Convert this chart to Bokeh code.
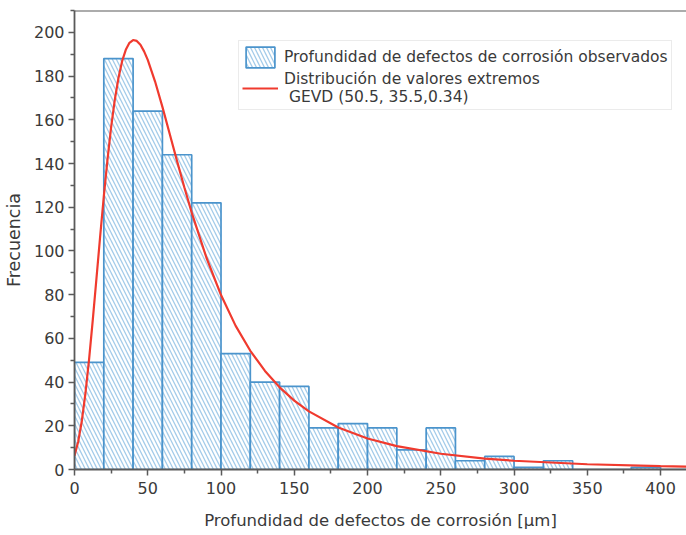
from bokeh.plotting import figure
from bokeh.models import (ColumnDataSource, Legend, LegendItem, Span,
                          Range1d, FixedTicker)
from bokeh.embed import file_html
from bokeh.resources import INLINE

# ---- data ----
bin_left = [0, 20, 40, 60, 80, 100, 120, 140, 160, 180, 200,
            220, 240, 260, 280, 300, 320, 340, 360, 380, 400]
counts = [49, 188, 164, 144, 122, 53, 40, 38, 19, 21, 19,
          9, 19, 4, 6, 1, 4, 0, 0, 1, 0]
bin_width = 20

curve_x = [0, 2.5, 5, 7.5, 10, 12.5, 15, 17.5, 20, 22.5, 25, 27.5, 30, 32.5,
           35, 37.5, 40, 42.5, 45, 47.5, 50, 55, 60, 65, 70, 75, 80, 90,
           100, 110, 120, 130, 140, 150, 160, 180, 200, 220, 250, 280,
           300, 350, 400, 420]
curve_y = [6.3, 12.7, 22.2, 35.0, 50.7, 68.6, 87.5, 106.6, 124.9, 141.7,
           156.6, 169.1, 179.1, 186.8, 192.0, 195.2, 196.5, 196.1, 194.3,
           191.3, 187.4, 177.5, 165.9, 153.5, 141.1, 129.0, 117.5, 97.0,
           79.8, 65.7, 54.3, 45.1, 37.6, 31.5, 26.6, 19.2, 14.2, 10.7, 7.2,
           5.0, 4.0, 2.4, 1.5, 1.3]

x_major = [0, 50, 100, 150, 200, 250, 300, 350, 400]
x_minor = [25, 75, 125, 175, 225, 275, 325, 375]
y_major = [0, 20, 40, 60, 80, 100, 120, 140, 160, 180, 200]
y_minor = [10, 30, 50, 70, 90, 110, 130, 150, 170, 190, 210]
y_top = 210

x_label = "Profundidad de defectos de corrosión [µm]"
y_label = "Frecuencia"
hist_label = "Profundidad de defectos de corrosión observados"
curve_label = "Distribución de valores extremos\n GEVD (50.5, 35.5,0.34)"

FONT = "DejaVu Sans"
TXT = "#3a3a3a"
AX = "#5a5a5a"

bar_src = ColumnDataSource(dict(x=[b + bin_width / 2 for b in bin_left],
                                top=counts))
curve_src = ColumnDataSource(dict(x=curve_x, y=curve_y))

p = figure(width=686, height=535, output_backend="svg", toolbar_location=None,
           x_range=Range1d(0, 417.7), y_range=Range1d(0, y_top),
           min_border_left=73, min_border_right=0, min_border_top=10,
           min_border_bottom=66)
p.outline_line_color = None
p.xgrid.visible = False
p.ygrid.visible = False
p.background_fill_color = "white"
p.border_fill_color = "white"

bars = p.vbar(x="x", top="top", width=bin_width, source=bar_src,
              fill_color="white", line_color="#4b94cc", line_width=1.7,
              hatch_pattern="left_diagonal_line", hatch_color="#a3cbe9",
              hatch_scale=8, hatch_weight=1.3)
line = p.line(x="x", y="y", source=curve_src, line_color="#f03a2e",
              line_width=2.2)

for ax in (p.xaxis[0], p.yaxis[0]):
    ax.axis_line_color = AX
    ax.axis_line_width = 1.8
    ax.major_tick_line_color = AX
    ax.major_tick_line_width = 1.5
    ax.minor_tick_line_color = AX
    ax.minor_tick_line_width = 1.5
    ax.major_tick_out = 6
    ax.major_tick_in = 0
    ax.minor_tick_out = 4
    ax.minor_tick_in = 0
    ax.major_label_text_font = FONT
    ax.major_label_text_font_size = "16px"
    ax.major_label_text_color = TXT
    ax.axis_label_text_font = FONT
    ax.axis_label_text_font_size = "16.5px"
    ax.axis_label_text_font_style = "normal"
    ax.axis_label_text_color = TXT

p.yaxis[0].axis_label_text_font_size = "17.5px"
p.xaxis[0].ticker = FixedTicker(ticks=x_major, minor_ticks=x_minor)
p.yaxis[0].ticker = FixedTicker(ticks=y_major, minor_ticks=y_minor)
p.xaxis[0].axis_label = x_label
p.yaxis[0].axis_label = y_label
p.xaxis[0].major_label_standoff = 6
p.xaxis[0].axis_label_standoff = 14
p.yaxis[0].major_label_standoff = 4
p.yaxis[0].axis_label_standoff = 7

top_line = Span(location=y_top, dimension="width", line_color=AX,
                line_width=1.8)
p.add_layout(top_line)

legend = Legend(items=[LegendItem(label=hist_label, renderers=[bars]),
                       LegendItem(label=curve_label, renderers=[line])],
                location=(164, 359), label_text_font=FONT,
                label_text_font_size="15.5px", label_text_color=TXT,
                glyph_width=36, glyph_height=26, label_standoff=6,
                spacing=0, padding=3, margin=0,
                border_line_color="#d8d8d8", border_line_width=1,
                background_fill_alpha=1.0)
p.add_layout(legend)

open("out.html", "w").write(file_html(p, INLINE))
